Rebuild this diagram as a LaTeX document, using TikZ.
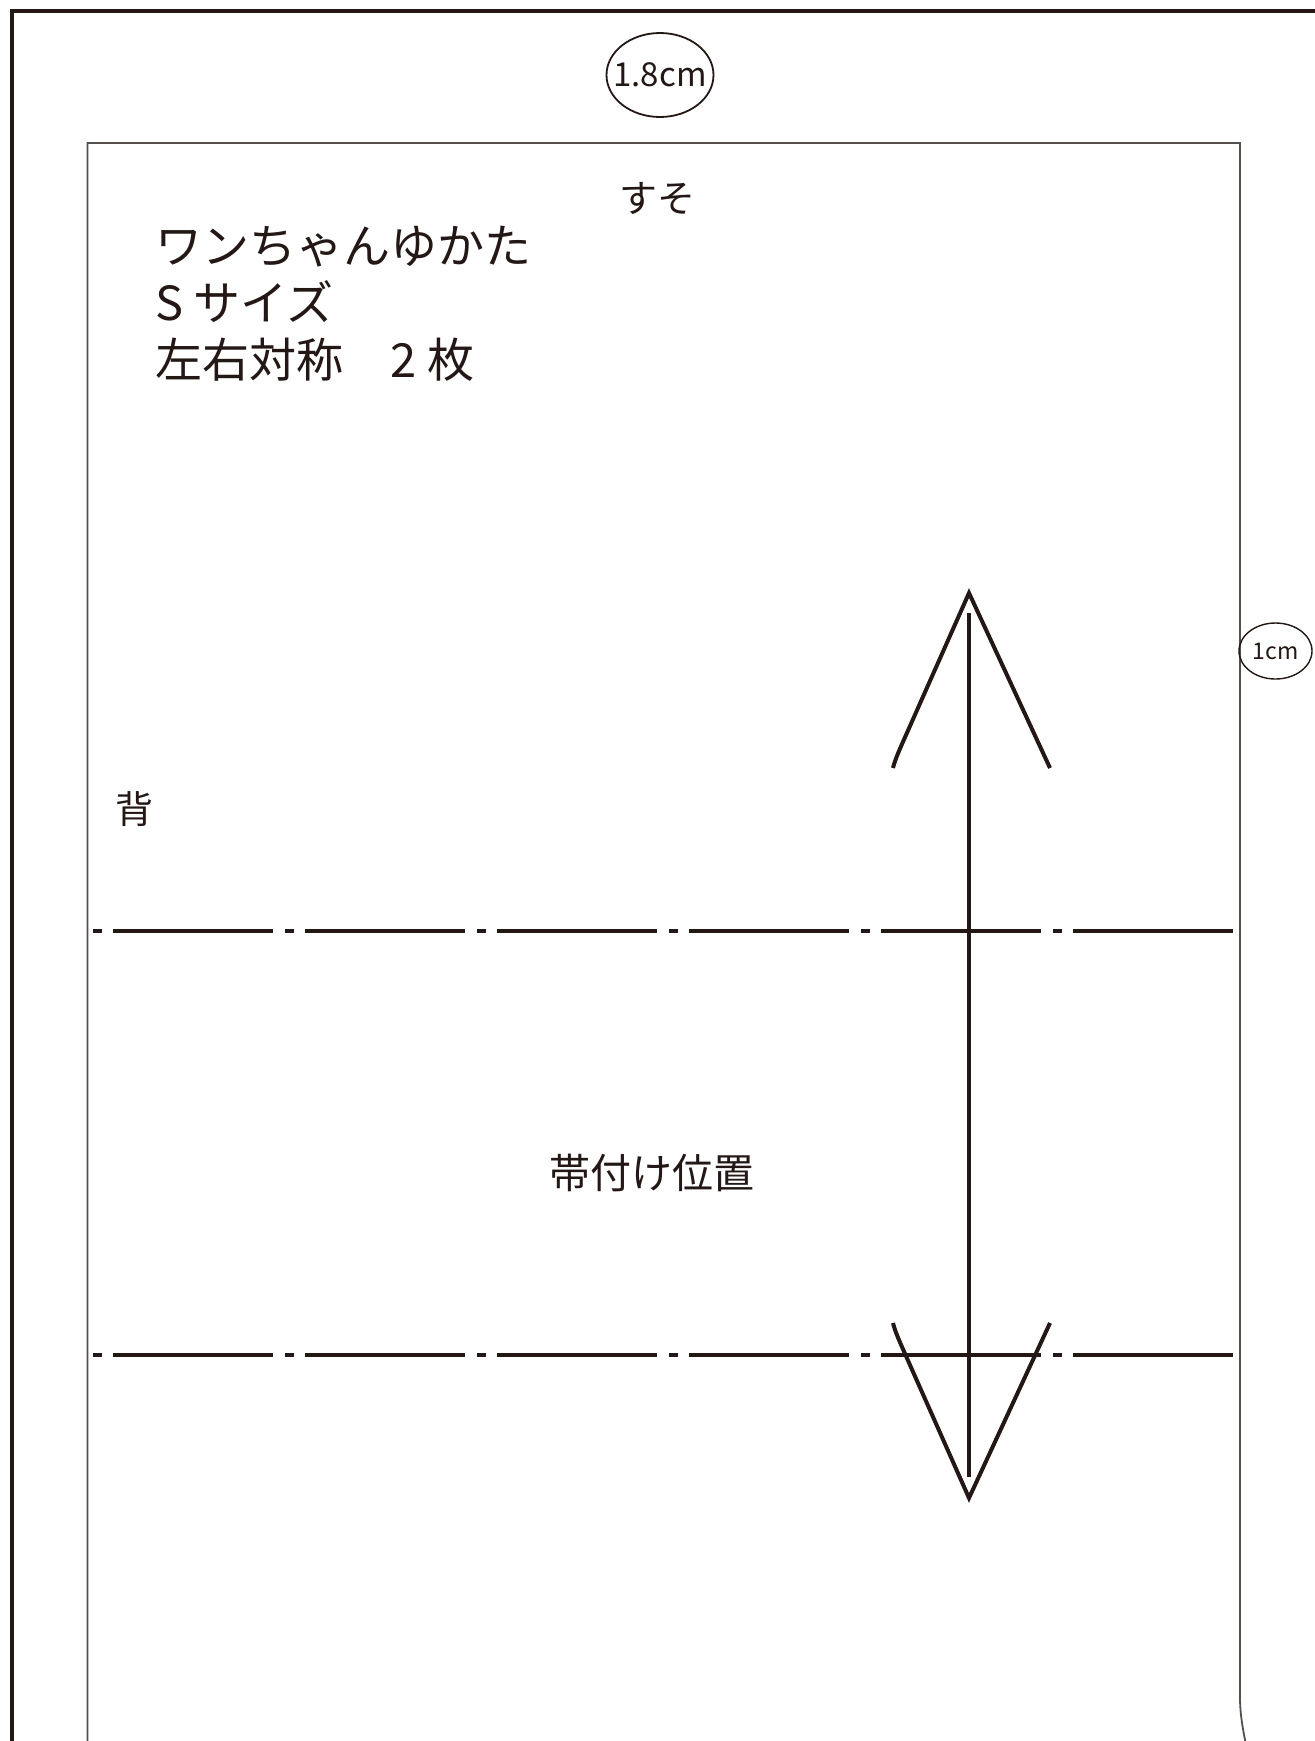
\documentclass[tikz,border=0pt]{standalone}
\usepackage{fontspec}
\setmainfont{Noto Sans CJK JP}
\usetikzlibrary{shapes.geometric}
\definecolor{ink}{RGB}{35,24,21}
\definecolor{edge}{RGB}{85,80,78}
\tikzset{
    cutline/.style={ink,line width=2pt},
    foldline/.style={ink,line width=1.6pt,dash pattern=on 4.5pt off 5.75pt on 79.75pt off 6pt},
    grainline/.style={ink,line width=2pt},
    allowance/.style={draw=ink,ellipse,inner sep=0pt},
}
\begin{document}
\begin{tikzpicture}[x=0.5pt,y=-0.5pt,every node/.style={text=ink,inner sep=0pt}]
        \useasboundingbox (0,0) rectangle (1314,1741);
        \fill[white] (0,0) rectangle (1314,1741);

        % outer frame and pattern outline
        \draw[cutline] (12,1750) -- (12,11) -- (1320,11);
        \draw[edge,line width=0.9pt] (87.5,1750) -- (87.5,143) -- (1240,143) -- (1240,1697)
            .. controls (1240,1715) and (1243,1730) .. (1247,1750);

        % seam allowances
        \node[allowance,line width=0.9pt,minimum width=53.5pt,minimum height=42pt] (hem) at (660,75) {};
        \node (hemtext) at (hem.center) {\fontsize{16.5}{20}\selectfont 1.8cm};
        \node[allowance,line width=0.7pt,minimum width=36.5pt,minimum height=28pt] (side) at (1275.5,651) {};
        \node (sidetext) at (side.center) {\fontsize{11.5}{14}\selectfont 1cm};

        % labels
        \node (suso) at (657,198) {\fontsize{19}{22}\selectfont すそ};
        \node[anchor=north west,align=left,font=\fontsize{23.5}{28.5}\selectfont] (title) at (155,226)
            {ワンちゃんゆかた\\S サイズ\\左右対称　2 枚};
        \node (back) at (134.5,809.5) {\fontsize{19}{22}\selectfont 背};
        \node (obi) at (651.5,1172.5) {\fontsize{20.5}{24}\selectfont 帯付け位置};

        % belt position
        \coordinate (obiTopL) at (92.5,931);
        \coordinate (obiTopR) at (1232.5,931);
        \coordinate (obiBotL) at (92.5,1355);
        \coordinate (obiBotR) at (1232.5,1355);
        \draw[foldline] (obiTopL) -- (obiTopR);
        \draw[foldline] (obiBotL) -- (obiBotR);

        % grain arrow
        \coordinate (tipN) at (969,593);
        \coordinate (tipS) at (969,1498);
        \coordinate (shaftN) at (969,613);
        \coordinate (shaftS) at (969,1477);
        \coordinate (barbNL) at (893,768);
        \coordinate (barbNR) at (1050,768);
        \coordinate (barbSL) at (893,1323);
        \coordinate (barbSR) at (1050,1323);
        \draw[grainline] (shaftN) -- (shaftS);
        \draw[grainline] (barbNL) .. controls (895,760) and (898,753) .. (906,735) -- (tipN) -- (barbNR);
        \draw[grainline] (barbSL) .. controls (895,1331) and (898,1338) .. (906,1356) -- (tipS) -- (barbSR);
\end{tikzpicture}
\end{document}
